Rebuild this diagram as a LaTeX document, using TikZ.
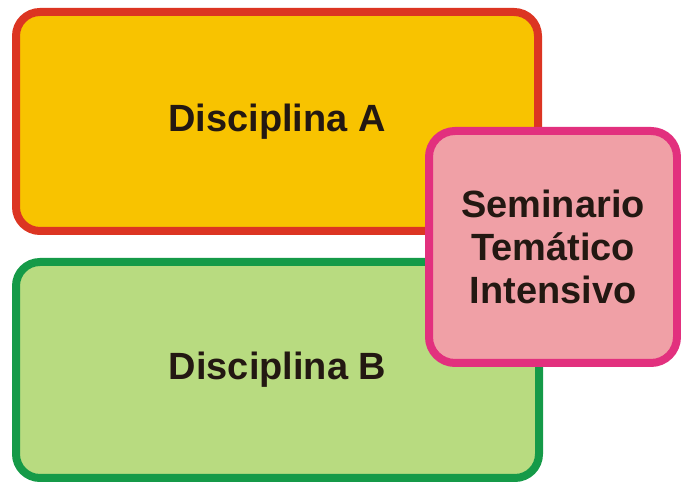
\documentclass[tikz,border=0pt]{standalone}
\usepackage{fontspec}
\setmainfont{Liberation Sans}
\definecolor{amarillo}{HTML}{F8C300}
\definecolor{rojo}{HTML}{DC3522}
\definecolor{verdeclaro}{HTML}{B8DB80}
\definecolor{verde}{HTML}{159A48}
\definecolor{rosa}{HTML}{F0A0A6}
\definecolor{magenta}{HTML}{E2307E}
\definecolor{texto}{HTML}{231812}
\tikzset{caja/.style={shape=rectangle, rounded corners=0.6cm, line width=0.2cm, inner sep=0pt,
        text=texto, font=\fontsize{27}{30.5}\selectfont\bfseries, align=center}}
\begin{document}
\begin{tikzpicture}
                \useasboundingbox (0,0) rectangle (17.025,12.1);
                \node[caja, draw=rojo, fill=amarillo, minimum width=13.05cm, minimum height=5.475cm] (A) at (6.925,9.0625) {Disciplina A};
                \node[caja, draw=verde, fill=verdeclaro, minimum width=13.075cm, minimum height=5.4cm] (B) at (6.9375,2.85) {Disciplina B};
                \node[caja, draw=magenta, fill=rosa, rounded corners=0.65cm, minimum width=6.2cm, minimum height=5.8cm] (sem) at (13.825,5.925) {Seminario\\Temático\\Intensivo};
            \end{tikzpicture}
\end{document}
